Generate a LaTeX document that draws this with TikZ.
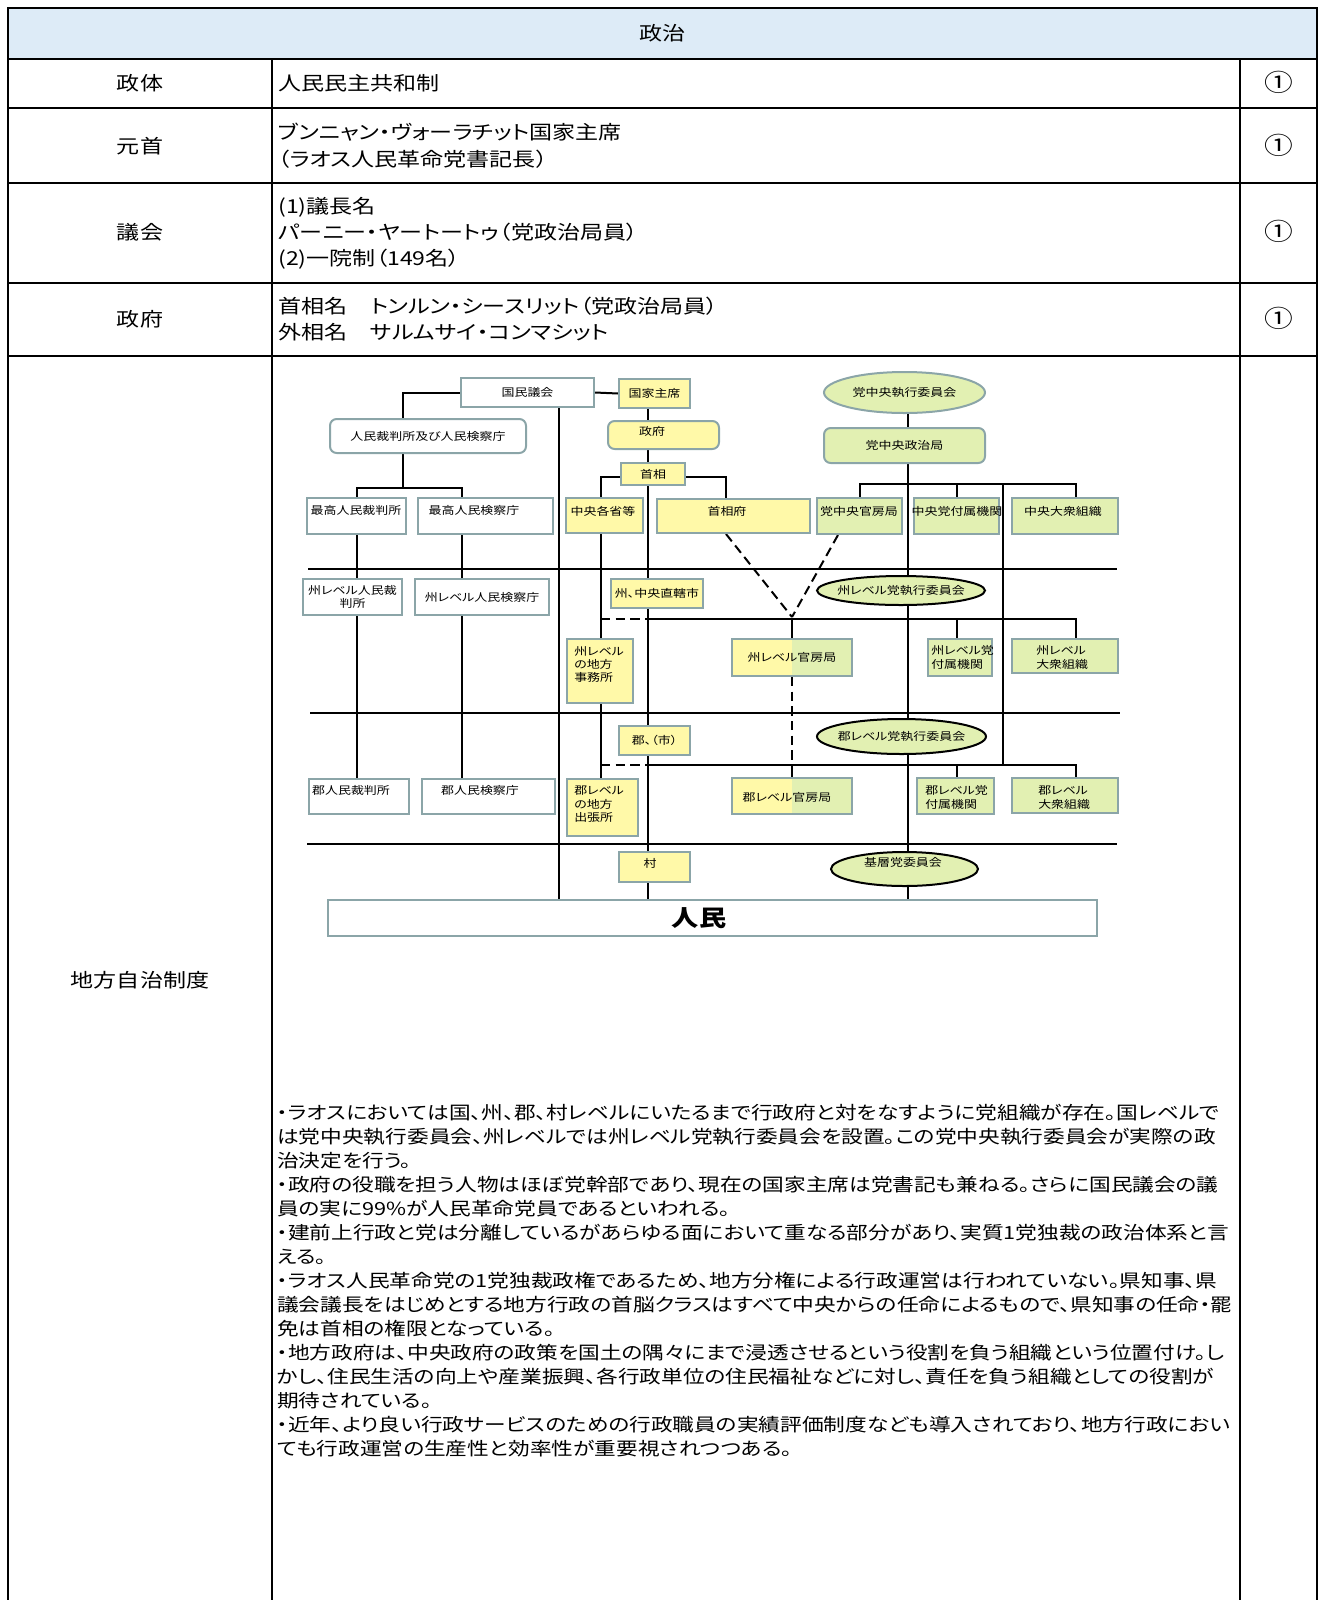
\documentclass[tikz,border=0pt]{standalone}
\usepackage{fontspec}
\setmainfont{Noto Sans CJK JP}[FakeStretch=1.2,RawFeature=+palt]
\usetikzlibrary{shapes.geometric,backgrounds}
\definecolor{hdrblue}{RGB}{221,235,247}
\definecolor{byel}{RGB}{255,249,168}
\definecolor{bgrn}{RGB}{226,240,178}
\definecolor{bbrd}{RGB}{139,165,168}
\newcommand\tblfont{\fontsize{14.4pt}{19.9pt}\selectfont}
\newcommand\parfont{\fontsize{13.55pt}{18pt}\selectfont}
\newcommand\dgfont{\fontsize{8.1pt}{10.1pt}\selectfont}
\newcommand\mkbox[7]{\node[#2,minimum width={(#5-#3)*0.75pt},minimum height={(#6-#4)*0.75pt}] (#1) at ({(#3+#5)/2},{(#4+#6)/2}) {#7};}
\begin{document}
\begin{tikzpicture}[x=0.75pt,y=-0.75pt,
  tline/.style={line width=1.5pt},
  conn/.style={line width=1.5pt},
  thinconn/.style={line width=1.0pt},
  dconn/.style={line width=1.5pt,dash pattern=on 7pt off 4pt},
  boxbase/.style={rectangle,draw=bbrd,line width=1.5pt,inner sep=0pt,font=\dgfont,align=center},
  wbox/.style={boxbase,fill=white},
  ybox/.style={boxbase,fill=byel},
  gbox/.style={boxbase,fill=bgrn},
  splitbox/.style={boxbase,path picture={
     \fill[byel] (path picture bounding box.south west) rectangle (path picture bounding box.north);
     \fill[bgrn] (path picture bounding box.north) rectangle (path picture bounding box.south east);}},
  pell/.style={ellipse,draw=black,line width=1.5pt,fill=bgrn,inner sep=0pt},
  dtext/.style={font=\dgfont,inner sep=0pt},
  ttext/.style={font=\tblfont,inner sep=0pt},
  ptext/.style={font=\parfont,inner sep=0pt,anchor=west},
  circ/.style={font=\fontsize{18pt}{20pt}\selectfont,inner sep=0pt},
]
\useasboundingbox (0,0) rectangle (1321,1600);

% ---------------- table ----------------
\fill[hdrblue] (8,8) rectangle (1317,59);
\draw[tline] (8,1606) -- (8,8) -- (1317,8) -- (1317,1606);
\foreach \yy in {59,108,183,283,356} \draw[tline] (8,\yy) -- (1317,\yy);
\draw[tline] (272,59) -- (272,1606);
\draw[tline] (1240,59) -- (1240,1606);

\node[ttext] (hd) at (662.5,33.5) {政治};
\node[ttext] (l1) at (140,83.5) {政体};
\node[ttext] (l2) at (140,146) {元首};
\node[ttext] (l3) at (140,232.5) {議会};
\node[ttext] (l4) at (140,319) {政府};
\node[ttext] (l5) at (140,980) {地方自治制度};

\node[ttext,anchor=west] (c1) at (278,83.5) {人民民主共和制};
\node[ttext,anchor=west] (c2a) at (278,132.5) {ブンニャン・ヴォーラチット国家主席};
\node[ttext,anchor=west] (c2b) at (278,159) {（ラオス人民革命党書記長）};
\node[ttext,anchor=west] (c3a) at (278,207) {(1)議長名};
\node[ttext,anchor=west] (c3b) at (278,232.5) {パーニー・ヤートートゥ（党政治局員）};
\node[ttext,anchor=west] (c3c) at (278,259) {(2)一院制（149名）};
\node[ttext,anchor=west] (c4a) at (278,306) {首相名　トンルン・シースリット（党政治局員）};
\node[ttext,anchor=west] (c4b) at (278,332) {外相名　サルムサイ・コンマシット};

\node[circ] (r1) at (1279,82) {①};
\node[circ] (r2) at (1279,145) {①};
\node[circ] (r3) at (1279,231) {①};
\node[circ] (r4) at (1279,318) {①};

\node[ptext] (p1) at (277,1113) {・ラオスにおいては国、州、郡、村レベルにいたるまで行政府と対をなすように党組織が存在。国レベルで};
\node[ptext] (p2) at (277,1136.95) {は党中央執行委員会、州レベルでは州レベル党執行委員会を設置。この党中央執行委員会が実際の政};
\node[ptext] (p3) at (277,1160.9) {治決定を行う。};
\node[ptext] (p4) at (277,1184.85) {・政府の役職を担う人物はほぼ党幹部であり、現在の国家主席は党書記も兼ねる。さらに国民議会の議};
\node[ptext] (p5) at (277,1208.8) {員の実に99\%が人民革命党員であるといわれる。};
\node[ptext] (p6) at (277,1232.75) {・建前上行政と党は分離しているがあらゆる面において重なる部分があり、実質1党独裁の政治体系と言};
\node[ptext] (p7) at (277,1256.7) {える。};
\node[ptext] (p8) at (277,1280.65) {・ラオス人民革命党の1党独裁政権であるため、地方分権による行政運営は行われていない。県知事、県};
\node[ptext] (p9) at (277,1304.6) {議会議長をはじめとする地方行政の首脳クラスはすべて中央からの任命によるもので、県知事の任命・罷};
\node[ptext] (p10) at (277,1328.55) {免は首相の権限となっている。};
\node[ptext] (p11) at (277,1352.5) {・地方政府は、中央政府の政策を国土の隅々にまで浸透させるという役割を負う組織という位置付け。し};
\node[ptext] (p12) at (277,1376.45) {かし、住民生活の向上や産業振興、各行政単位の住民福祉などに対し、責任を負う組織としての役割が};
\node[ptext] (p13) at (277,1400.4) {期待されている。};
\node[ptext] (p14) at (277,1424.35) {・近年、より良い行政サービスのための行政職員の実績評価制度なども導入されており、地方行政におい};
\node[ptext] (p15) at (277,1448.3) {ても行政運営の生産性と効率性が重要視されつつある。};

% ---------------- diagram boxes ----------------
\mkbox{kokumin}{wbox}{461}{378}{594}{407}{国民議会}
\mkbox{saibansho}{wbox,rounded corners=5pt}{330}{419}{526}{453}{人民裁判所及び人民検察庁}
\mkbox{saikousai}{wbox}{307}{498}{406}{534}{}
\mkbox{saikouken}{wbox}{418}{498}{553}{534}{}
\mkbox{shusai}{wbox}{303}{579}{402}{615}{州レベル人民裁\\判所}
\mkbox{shuken}{wbox}{415}{579}{549}{615}{州レベル人民検察庁}
\mkbox{gunsai}{wbox}{309}{779}{409}{814}{}
\mkbox{gunken}{wbox}{422}{779}{555}{814}{}
\mkbox{jinmin}{wbox}{328}{900}{1097}{936}{}

\mkbox{kokka}{ybox}{619}{379}{690}{408}{国家主席}
\mkbox{seifu}{ybox,rounded corners=5pt}{608}{421}{719}{449}{}
\mkbox{shusho}{ybox}{621}{463}{685}{485}{首相}
\mkbox{chuo}{ybox}{566}{498}{643}{533}{}
\mkbox{shushofu}{ybox}{657}{499}{810}{533}{}
\mkbox{chokkatsu}{ybox}{611}{579}{703}{608}{州、中央直轄市}
\mkbox{shujimu}{ybox}{567}{639}{633}{703}{}
\mkbox{gunshi}{ybox}{619}{726}{690}{755}{郡、（市）}
\mkbox{gunshutcho}{ybox}{567}{779}{638}{836}{}
\mkbox{mura}{ybox}{619}{852}{690}{882}{}

\mkbox{seijikyoku}{gbox,rounded corners=5pt}{824}{428}{985}{463}{党中央政治局}
\mkbox{kanbo}{gbox}{817}{498}{902}{534}{}
\mkbox{fuzoku}{gbox}{914}{498}{999}{534}{}
\mkbox{taishu}{gbox}{1012}{498}{1118}{534}{}
\mkbox{shukanbo}{splitbox}{732}{639}{852}{676}{州レベル官房局}
\mkbox{shufuzoku}{gbox}{928}{639}{992}{676}{}
\mkbox{shutaishu}{gbox}{1012}{639}{1118}{673}{}
\mkbox{gunkanbo}{splitbox}{732}{778}{852}{814}{}
\mkbox{gunfuzoku}{gbox}{917}{778}{994}{814}{}
\mkbox{guntaishu}{gbox}{1012}{778}{1118}{813}{}

\node[pell,draw=bbrd,minimum width={161*0.75pt},minimum height={41*0.75pt}] (toexec) at (904.5,392.5) {};
\node[pell,minimum width={168*0.75pt},minimum height={29*0.75pt}] (shuexec) at (901,590.5) {};
\node[pell,minimum width={169*0.75pt},minimum height={35*0.75pt}] (gunexec) at (901.5,736.5) {};
\node[pell,minimum width={147*0.75pt},minimum height={34*0.75pt}] (kisou) at (904.5,869) {};

% texts placed off-centre
\node[dtext] (saikousaiT) at (356,510) {最高人民裁判所};
\node[dtext] (saikoukenT) at (474,510) {最高人民検察庁};
\node[dtext] (gunsaiT) at (351,790) {郡人民裁判所};
\node[dtext] (gunkenT) at (480,790) {郡人民検察庁};
\node[dtext] (seifuT) at (652,431) {政府};
\node[dtext] (chuoT) at (603,511) {中央各省等};
\node[dtext] (shushofuT) at (727,511) {首相府};
\node[dtext] (kanboT) at (859,511) {党中央官房局};
\node[dtext] (fuzokuT) at (957,511) {中央党付属機関};
\node[dtext] (taishuT) at (1063,511) {中央大衆組織};
\node[dtext,align=left,anchor=west] (shujimuT) at (574,664.5) {州レベル\\の地方\\事務所};
\node[dtext,align=left,anchor=west] (gunshutchoT) at (574,804.5) {郡レベル\\の地方\\出張所};
\node[dtext] (muraT) at (650,863) {村};
\node[dtext,align=left,anchor=west] (shufuzokuT) at (931,657.5) {州レベル党\\付属機関};
\node[dtext,align=left,anchor=west] (shutaishuT) at (1036,657.5) {州レベル\\大衆組織};
\node[dtext] (gunkanboT) at (787,797) {郡レベル官房局};
\node[dtext,align=left,anchor=west] (gunfuzokuT) at (925,797.5) {郡レベル党\\付属機関};
\node[dtext,align=left,anchor=west] (guntaishuT) at (1038,797.5) {郡レベル\\大衆組織};
\node[dtext] (toexecT) at (904.5,392.5) {党中央執行委員会};
\node[dtext] (shuexecT) at (901,590.5) {州レベル党執行委員会};
\node[dtext] (gunexecT) at (901.5,736.5) {郡レベル党執行委員会};
\node[dtext] (kisouT) at (903,862) {基層党委員会};
\node[font=\bfseries\fontsize{17pt}{20pt}\selectfont,inner sep=0pt] (jinminT) at (699,918) {人民};

% ---------------- connectors ----------------
\coordinate (xA) at (403,0);
\coordinate (xB) at (559,0);
\coordinate (xC) at (357,0);
\coordinate (xD) at (462,0);
\coordinate (xE) at (648,0);
\coordinate (xF) at (601,0);
\coordinate (xH) at (726,0);
\coordinate (xJ) at (1076,0);
\coordinate (xL) at (957,0);
\coordinate (xM) at (908,0);
\coordinate (xP) at (1003,0);
\coordinate (xQ) at (838,0);
\coordinate (yG) at (0,477);
\coordinate (yJ) at (0,488);
\coordinate (y484) at (0,484);
\coordinate (y619) at (0,619);
\coordinate (y765) at (0,765);
\coordinate (jD) at (792,617);

\begin{pgfonlayer}{background}
\draw[conn] (308,569) -- (1117,569);
\draw[conn] (310,713) -- (1120,713);
\draw[conn] (307,844) -- (1117,844);

\draw[conn] (kokumin.west) -| (saibansho.north -| xA);
\draw[conn] (kokumin.east) -- (kokka.west);
\draw[conn] (kokumin.south -| xB) -- (jinmin.north -| xB);
\draw[conn] (saibansho.south -| xA) -- (xA |- yJ);
\draw[conn] (saikousai.north -| xC) |- (xD |- yJ) -- (saikouken.north -| xD);
\draw[conn] (saikousai.south -| xC) -- (gunsai.north -| xC);
\draw[conn] (saikouken.south -| xD) -- (gunken.north -| xD);

\draw[conn] (kokka.south -| xE) -- (shusho.north -| xE);
\draw[thinconn] (shusho.south -| xE) -- (jinmin.north -| xE);
\draw[conn] (shusho.west |- yG) -| (chuo.north -| xF);
\draw[conn] (shusho.east |- yG) -| (shushofu.north -| xH);
\draw[conn] (chuo.south -| xF) -- (gunshutcho.north -| xF);
\draw[dconn] (xF |- y619) -- (xE |- y619);
\draw[dconn] (xF |- y765) -- (xE |- y765);
\draw[conn] (xE |- y619) -- (xJ |- y619) -- (shutaishu.north -| xJ);
\draw[conn] (shukanbo.north |- y619) -- (shukanbo.north);
\draw[conn] (xL |- y619) -- (shufuzoku.north -| xL);
\draw[conn] (xE |- y765) -- (xJ |- y765) -- (guntaishu.north -| xJ);
\draw[conn] (gunkanbo.north |- y765) -- (gunkanbo.north);
\draw[conn] (xL |- y765) -- (gunfuzoku.north -| xL);
\draw[dconn] (shukanbo.south) -- (shukanbo.south |- y765);
\draw[dconn] (shushofu.south -| xH) -- (jD);
\draw[dconn] (kanbo.south -| xQ) -- (jD);

\draw[conn] (toexec.south -| xM) -- (jinmin.north -| xM);
\draw[conn] (kanbo.north) |- (xJ |- y484) -- (taishu.north -| xJ);
\draw[conn] (xL |- y484) -- (fuzoku.north -| xL);
\draw[conn] (xP |- y484) -- (xP |- y765);
\end{pgfonlayer}
\end{tikzpicture}
\end{document}
